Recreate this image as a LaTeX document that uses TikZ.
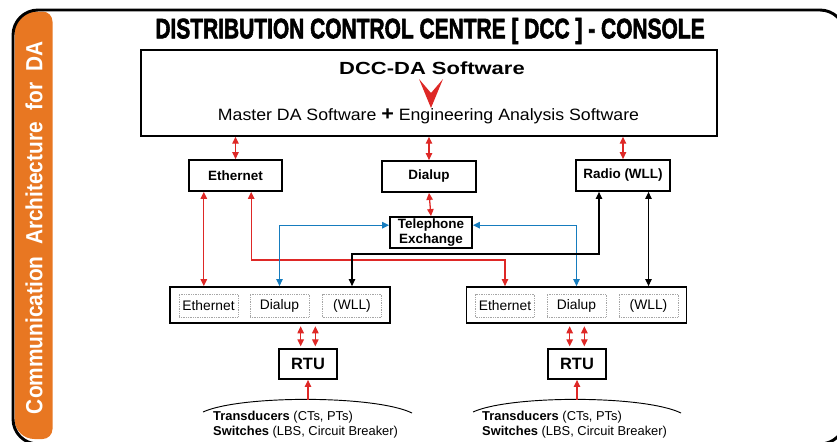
\documentclass[tikz,border=0pt]{standalone}
\usepackage{fontspec}
\setmainfont{Liberation Sans}
\newfontfamily\heavyfont{Liberation Sans}[BoldFeatures={FakeBold=2.5}]
\usepackage{graphicx}
\usetikzlibrary{arrows.meta, calc}
\definecolor{daorange}{RGB}{232,119,34}
\definecolor{dared}{RGB}{222,40,38}
\definecolor{dablue}{RGB}{22,124,190}
\begin{document}
\begin{tikzpicture}[
        x=0.03cm, y=-0.03cm,
        % Define styles for consistency
        box/.style={
            rectangle,
            draw=black,
            line width=1.5pt,
            fill=white,
            inner sep=0pt,
            align=center,
            font=\fontsize{11.5}{12.5}\selectfont\bfseries
        },
        panel/.style={
            rectangle,
            draw=black,
            line width=1.5pt,
            fill=white,
            minimum width=6.6cm,
            minimum height=1.08cm
        },
        subbox/.style={
            rectangle,
            draw=gray!70,
            densely dotted,
            line width=0.5pt,
            minimum width=1.77cm,
            minimum height=0.69cm,
            inner sep=0pt,
            font=\fontsize{11.8}{12}\selectfont
        },
        rtu/.style={
            box,
            minimum width=1.74cm,
            minimum height=0.9cm,
            font=\fontsize{14}{14}\selectfont\bfseries
        },
        src/.style={
            anchor=west,
            align=left,
            inner sep=0pt,
            font=\fontsize{11}{12.8}\selectfont
        },
        redline/.style={
            draw=dared,
            line width=1.1pt,
            {Triangle[length=6pt,width=5.5pt]}-{Triangle[length=6pt,width=5.5pt]}
        },
        upline/.style={
            draw=dared,
            line width=1.1pt,
            -{Triangle[length=6pt,width=5.5pt]}
        },
        blueline/.style={
            draw=dablue,
            line width=1.1pt,
            {Triangle[length=6pt,width=5.5pt]}-{Triangle[length=6pt,width=5.5pt]}
        },
        blackline/.style={
            draw=black,
            line width=1.1pt,
            {Triangle[length=6pt,width=5.5pt]}-{Triangle[length=6pt,width=5.5pt]}
        }
    ]

    \useasboundingbox (0,0) rectangle (837,441);

    % --- FRAME AND SIDE BAR ---
    \fill[daorange] (14.5,225) [rounded corners=0.6cm] -- (14.5,11.5)
        [rounded corners=0.3cm] -- (52.5,11.5) -- (52.5,439)
        [rounded corners=0.6cm] -- (14.5,439) -- cycle;
    \begin{scope}
        \clip (0,0) rectangle (837,441);
        \draw[line width=2.5pt, rounded corners=0.75cm] (13,10) rectangle (845,444);
    \end{scope}
    \node[rotate=90, text=white, font=\fontsize{17.8}{18}\selectfont\bfseries] (side) at (34,227.5)
        {\scalebox{1}[1.12]{Communication\ \ Architecture\ \ for\ \ DA}};

    % Title
    \node[font=\fontsize{24}{24}\selectfont\heavyfont\bfseries] (title) at (430,31)
        {\scalebox{0.745}[1]{DISTRIBUTION CONTROL CENTRE [ DCC ] - CONSOLE}};

    % --- DCC CONSOLE ---
    \node[box, line width=1.2pt, minimum width=17.28cm, minimum height=2.58cm] (dcc) at (429,93) {};
    \node[font=\fontsize{15}{15}\selectfont\bfseries] (dccName) at (432,68)
        {\scalebox{1.25}[1]{DCC-DA Software}};
    \fill[dared] (419,79) -- (431,93) -- (443,79) -- (431,108) -- cycle;
    \node[font=\fontsize{14}{14}\selectfont] (dccParts) at (428.5,116)
        {\scalebox{1.08}[1]{Master DA Software {\fontsize{17}{17}\selectfont\bfseries +} Engineering Analysis Software}};

    % Media
    \node[box, minimum width=2.79cm, minimum height=0.93cm] (eth) at (235.5,175.5) {Ethernet};
    \node[box, minimum width=2.82cm, minimum height=0.93cm] (dial) at (429,176.5) {Dialup};
    \node[box, minimum width=2.82cm, minimum height=0.93cm] (radio) at (623,175.5) {Radio (WLL)};
    \node[box, minimum width=2.46cm, minimum height=0.93cm] (tel) at (431,232.5) {Telephone\\Exchange};

    % --- FIELD SIDE ---
    \node[panel] (panL) at (280,305) {};
    \node[panel] (panR) at (576.5,305) {};

    \node[subbox] (ethL) at (208.5,305.5) {Ethernet};
    \node[subbox] (dialL) at (279.5,305.5) {Dialup};
    \node[subbox] (wllL) at (352,305.5) {(WLL)};
    \node[subbox] (ethR) at (505,305.5) {Ethernet};
    \node[subbox] (dialR) at (576.5,305.5) {Dialup};
    \node[subbox] (wllR) at (648.5,305.5) {(WLL)};

    \node[rtu] (rtuL) at (308,364) {RTU};
    \node[rtu] (rtuR) at (577,364) {RTU};

    % Field devices
    \draw[line width=0.8pt] (203,412) .. controls (240,395) and (375,395) .. (412,413);
    \draw[line width=0.8pt] (473,412) .. controls (510,395) and (644,395) .. (681,413);
    \coordinate (srcL) at (308,399.5);
    \coordinate (srcR) at (577,399.5);
    \node[src] (devL) at (213,425) {\textbf{Transducers} (CTs, PTs)\\\textbf{Switches} (LBS, Circuit Breaker)};
    \node[src] (devR) at (482,425) {\textbf{Transducers} (CTs, PTs)\\\textbf{Switches} (LBS, Circuit Breaker)};

    % --- CONNECTIONS ---
    % Console to media
    \draw[redline] (eth.north) -- (eth.north |- dcc.south);
    \draw[redline] (dial.north) -- (dial.north |- dcc.south);
    \draw[redline] (radio.north) -- (radio.north |- dcc.south);
    \draw[redline] (dial.south) -- (tel.north);

    % Ethernet links
    \coordinate (e1) at ([xshift=-0.95cm]eth.south);
    \coordinate (e2) at ([xshift=0.47cm]eth.south);
    \draw[redline] (e1) -- (e1 |- panL.north);
    \draw[redline] (e2) -- (e2 |- 0,260) -| (ethR.north |- panR.north);

    % Dialup links through the exchange
    \coordinate (t1) at ([yshift=0.22cm]tel.west);
    \coordinate (t2) at ([yshift=0.22cm]tel.east);
    \draw[blueline] (dialL.north |- panL.north) |- (t1);
    \draw[blueline] (dialR.north |- panR.north) |- (t2);

    % Radio links
    \coordinate (r1) at ([xshift=-0.72cm]radio.south);
    \draw[blackline] (r1) -- (r1 |- 0,254) -| (wllL.north |- panL.north);
    \draw[blackline] (wllR.north |- radio.south) -- (wllR.north |- panR.north);

    % Panels to RTUs
    \path ([xshift=-0.22cm]rtuL.north) coordinate (u1)
          ([xshift=0.22cm]rtuL.north) coordinate (u2)
          ([xshift=-0.22cm]rtuR.north) coordinate (u3)
          ([xshift=0.22cm]rtuR.north) coordinate (u4);
    \foreach \u/\p in {u1/panL, u2/panL, u3/panR, u4/panR}
        \draw[redline, shorten <=1.5pt, shorten >=2pt] (\u) -- (\u |- \p.south);

    % Field devices to RTUs
    \draw[upline] (srcL) -- (rtuL.south);
    \draw[upline] (srcR) -- (rtuR.south);

\end{tikzpicture}
\end{document}
